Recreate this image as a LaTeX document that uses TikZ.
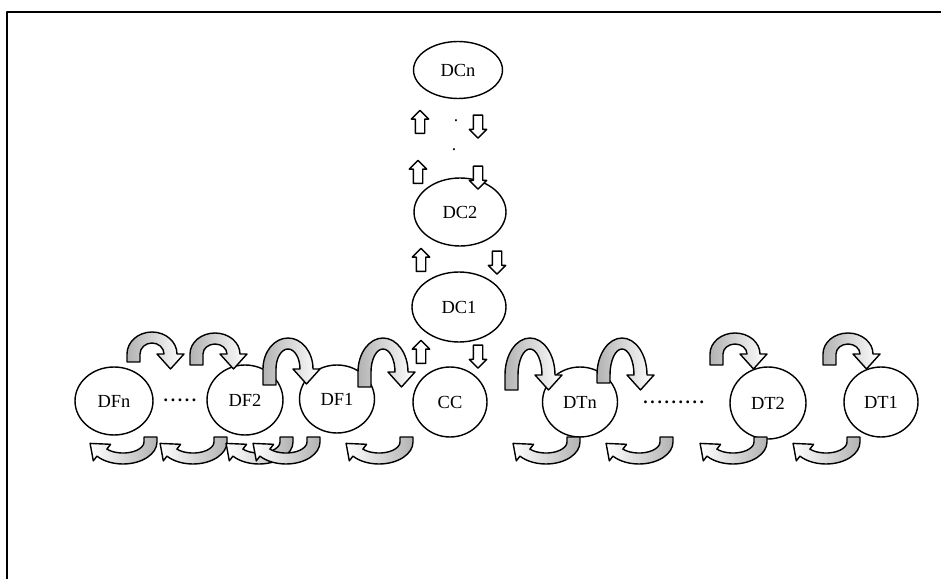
\documentclass[tikz,border=0pt]{standalone}
\usepackage{fontspec}
\setmainfont{Liberation Serif}
\usetikzlibrary{shapes.geometric,shapes.arrows,calc}
\newcommand{\dotrow}[1]{\foreach \i in {1,...,#1}{.\hspace{1.5pt}}}
\tikzset{
	oval/.style={draw,thick,fill=white,ellipse,inner sep=0pt,font=\fontsize{10.5}{12}\selectfont},
	blockarr/.style={draw,thick,fill=white,single arrow,inner sep=0.08cm,minimum height=0.46cm,minimum width=0.34cm,single arrow head extend=0.08cm},
	pics/archdown/.style 2 args={code={
		\pgfmathsetmacro\ryo{#1-#2}
		\pgfmathsetmacro\ryi{#1-#2-11}
		\draw[thick,left color=gray!60,right color=white]
		(0,0)--(0,#2) arc[start angle=180,end angle=0,x radius=25,y radius=\ryo]
		--(57,#2)--(43.5,#2-15)--(30,#2)--(37,#2)
		arc[start angle=0,end angle=180,x radius=12,y radius=\ryi]--(13,0)--cycle;
	}},
	archup/.pic={
		\draw[thick,left color=white,right color=gray!60]
		(21,5)--(34,5)--(34,0) arc[start angle=0,end angle=-140,x radius=34,y radius=22]
		--(-29.7,-18.9)--(-32.9,-1.4)--(-12.4,-2.3)--(-16.1,-7.1)
		arc[start angle=-140,end angle=0,x radius=21,y radius=11]--cycle;
	}
}
\begin{document}
\begin{tikzpicture}[x=0.02cm,y=0.02cm,line join=round]
	\useasboundingbox (0,0) rectangle (941,579);
	\draw[line width=1.2pt](7,0)--(7,567)--(941,567);
	%cot giua
	\node[oval,minimum width=1.78cm,minimum height=1.14cm] (DCn) at (458,509) {DCn};
	\node[oval,minimum width=1.84cm,minimum height=1.36cm] (DC2) at (460,367) {DC2};
	\node[oval,minimum width=1.88cm,minimum height=1.4cm] (DC1) at (459,272) {DC1};
	\node[oval,minimum width=1.48cm,minimum height=1.4cm] (CC) at (450,177) {CC};
	\node at (456,458) {.};
	\node at (454,429) {.};
	%hang duoi
	\node[oval,minimum width=1.56cm,minimum height=1.36cm] (DFn) at (114,178) {DFn};
	\node[oval,minimum width=1.52cm,minimum height=1.4cm] (DF2) at (245,179) {DF2};
	\node[oval,minimum width=1.5cm,minimum height=1.36cm] (DF1) at (337,180) {DF1};
	\node[oval,minimum width=1.5cm,minimum height=1.4cm] (DTn) at (580,177) {DTn};
	\node[oval,minimum width=1.52cm,minimum height=1.44cm] (DT2) at (768,176) {DT2};
	\node[oval,minimum width=1.48cm,minimum height=1.4cm] (DT1) at (881,177) {DT1};
	\node[font=\bfseries\fontsize{10}{12}\selectfont] (dF) at ($(DFn.east)!0.5!(DF2.west)$) {\dotrow{5}};
	\node[font=\bfseries\fontsize{10}{12}\selectfont] (dT) at ($(DTn.east)!0.5!(DT2.west)$) {\dotrow{9}};
	%mui ten len xuong
	\node[blockarr,rotate=90] (u1) at ($(DCn.south)+(-38,-25)$) {};
	\node[blockarr,rotate=-90] (d1) at ($(DCn.south)+(20,-25)$) {};
	\node[blockarr,rotate=90] (u2) at ($(DC2.north)+(-42,3)$) {};
	\node[blockarr,rotate=-90] (d2) at ($(DC2.north)+(18,2)$) {};
	\node[blockarr,rotate=90] (u3) at ($(DC1.north)+(-38,9)$) {};
	\node[blockarr,rotate=-90] (d3) at ($(DC1.north)+(38,11)$) {};
	\node[blockarr,rotate=90] (u4) at ($(CC.north)+(-29,12)$) {};
	\node[blockarr,rotate=-90] (d4) at ($(CC.north)+(28,12)$) {};
	%mui ten cong
	\foreach \x/\y/\h/\r in {127/217/30/8,190/214/32/11,263/194/47/16,358/192/49/15,505/189/52/15,597/196/45/8,710/214/32/11,823/214/32/11}
	\pic at (\x,\y) {archdown={\h}{\r}};
	\foreach \x in {123,193,259,286,379,546,639,733,826}
	\pic at (\x,137) {archup};
\end{tikzpicture}
\end{document}
